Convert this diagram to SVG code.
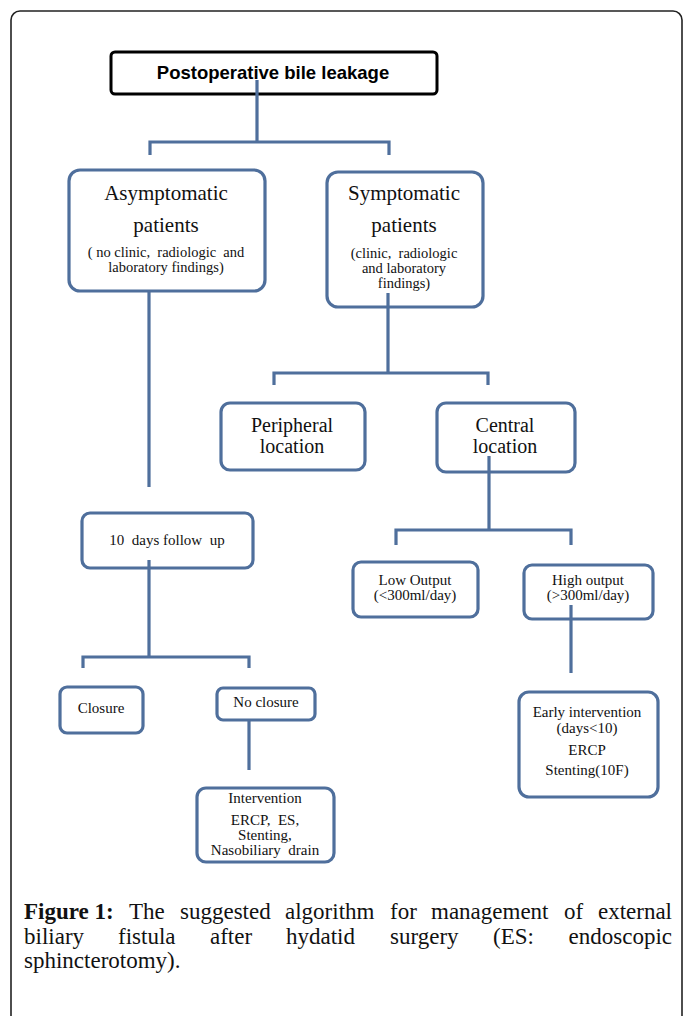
<svg xmlns="http://www.w3.org/2000/svg" width="683" height="1016" viewBox="0 0 683 1016">
<style>
.bx{fill:#fff;stroke:#4f6f9c;stroke-width:3.2}
.top{fill:#fff;stroke:#000;stroke-width:3}
.t{font-family:"Liberation Serif","Times New Roman",serif;fill:#111;text-anchor:middle}
.big{font-size:21px}
.mid{font-size:20px}
.sm{font-size:14.5px}
.s15{font-size:15px}
.cap{font-family:"Liberation Serif","Times New Roman",serif;font-size:23px;fill:#111}
.con{fill:none;stroke:#4f6f9c;stroke-width:3.2}
</style>
<rect x="0" y="0" width="683" height="1016" fill="#fff"/>
<rect x="11" y="11" width="671" height="1030" rx="9" fill="none" stroke="#222" stroke-width="1.6"/>

<g id="n-root">
<rect class="top" x="111" y="52" width="326" height="42" rx="4"/>
<text x="273" y="79" font-family="Liberation Sans, Arial, sans-serif" font-weight="bold" font-size="18.5" text-anchor="middle" fill="#000">Postoperative bile leakage</text>
</g>

<g id="n-asym">
<rect class="bx" x="69" y="170" width="196" height="121" rx="11"/>
<text class="t big" x="166" y="200">Asymptomatic</text>
<text class="t big" x="166" y="232">patients</text>
<text class="t sm" x="166" y="257" xml:space="preserve">( no clinic,  radiologic  and</text>
<text class="t sm" x="166" y="272">laboratory findings)</text>
</g>

<g id="n-sym">
<rect class="bx" x="327" y="172" width="156" height="135" rx="11"/>
<text class="t big" x="404" y="200">Symptomatic</text>
<text class="t big" x="404" y="232">patients</text>
<text class="t sm" x="404" y="258" xml:space="preserve">(clinic,  radiologic</text>
<text class="t sm" x="404" y="273">and laboratory</text>
<text class="t sm" x="404" y="288">findings)</text>
</g>

<g id="n-periph">
<rect class="bx" x="221" y="403" width="144" height="67" rx="9"/>
<text class="t mid" x="292" y="432">Peripheral</text>
<text class="t mid" x="292" y="453">location</text>
</g>

<g id="n-central">
<rect class="bx" x="437" y="403" width="138" height="69" rx="9"/>
<text class="t mid" x="505" y="432">Central</text>
<text class="t mid" x="505" y="453">location</text>
</g>

<g id="n-follow">
<rect class="bx" x="82" y="513" width="171" height="55" rx="8"/>
<text class="t s15" x="167" y="545" xml:space="preserve">10  days follow  up</text>
</g>

<g id="n-low">
<rect class="bx" x="353" y="562" width="125" height="55" rx="8"/>
<text class="t s15" x="415" y="585">Low Output</text>
<text class="t s15" x="415" y="600">(&lt;300ml/day)</text>
</g>

<g id="n-high">
<rect class="bx" x="524" y="565" width="129" height="54" rx="8"/>
<text class="t s15" x="588" y="585">High output</text>
<text class="t s15" x="588" y="600">(&gt;300ml/day)</text>
</g>

<g id="n-early">
<rect class="bx" x="519" y="692" width="139" height="105" rx="10"/>
<text class="t s15" x="587" y="717">Early intervention</text>
<text class="t s15" x="587" y="733">(days&lt;10)</text>
<text class="t s15" x="587" y="755">ERCP</text>
<text class="t s15" x="587" y="775">Stenting(10F)</text>
</g>

<g id="n-closure">
<rect class="bx" x="60" y="687" width="83" height="46" rx="7"/>
<text class="t s15" x="101" y="713">Closure</text>
</g>

<g id="n-noclosure">
<rect class="bx" x="217" y="688" width="98" height="32" rx="6"/>
<text class="t s15" x="266" y="707">No closure</text>
</g>

<g id="n-interv">
<rect class="bx" x="197" y="788" width="137" height="74" rx="9"/>
<text class="t s15" x="265" y="803">Intervention</text>
<text class="t s15" x="265" y="825" xml:space="preserve">ERCP,  ES,</text>
<text class="t s15" x="265" y="840">Stenting,</text>
<text class="t s15" x="265" y="855" xml:space="preserve" font-size="15.5">Nasobiliary  drain</text>
</g>

<g id="connectors">
<path class="con" d="M257 80 V142 M150 155 V142 H389 V155"/>
<path class="con" d="M149 291 V487"/>
<path class="con" d="M388 293 V373 M274 385 V373 H488 V385"/>
<path class="con" d="M489 456 V530 M396 545 V530 H571 V545"/>
<path class="con" d="M571 605 V673"/>
<path class="con" d="M149 560 V657 M83 668 V657 H249 V668"/>
<path class="con" d="M249 720 V770"/>
</g>

<g id="caption">
<text class="cap" y="919"><tspan x="24" font-weight="bold">Figure 1:</tspan><tspan x="129">The</tspan><tspan x="180">suggested</tspan><tspan x="285">algorithm</tspan><tspan x="390">for</tspan><tspan x="431">management</tspan><tspan x="564">of</tspan></text>
<text class="cap" x="672" y="919" text-anchor="end">external</text>
<text class="cap" y="944"><tspan x="24">biliary</tspan><tspan x="118">fistula</tspan><tspan x="210">after</tspan><tspan x="286">hydatid</tspan><tspan x="390">surgery</tspan><tspan x="493">(ES:</tspan></text>
<text class="cap" x="672" y="944" text-anchor="end">endoscopic</text>
<text class="cap" x="24" y="968">sphincterotomy).</text>
</g>
</svg>
